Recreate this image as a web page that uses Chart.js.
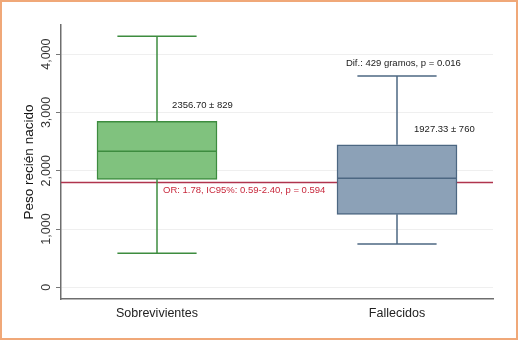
<!DOCTYPE html>
<html>
<head>
<meta charset="utf-8">
<script src="https://cdn.jsdelivr.net/npm/chart.js@4"></script>
<style>
  html, body { margin: 0; padding: 0; background: #fff; }
</style>
</head>
<body>
<canvas id="boxChart" width="518" height="340"></canvas>
<script>
// box plot summary per group
const groups = ['Sobrevivientes', 'Fallecidos'];
const whiskerLow = [583, 743];
const q1 = [1852, 1252];
const median = [2333, 1870];
const q3 = [2847, 2444];
const whiskerHigh = [4305, 3624];
const yTicks = [0, 1000, 2000, 3000, 4000];
const refLine = 1800;
const meanLabels = ['2356.70 ± 829', '1927.33 ± 760'];
const diffLabel = 'Dif.: 429 gramos, p = 0.016';
const orLabel = 'OR: 1.78, IC95%: 0.59-2.40, p = 0.594';

const fillColors = ['#80C27E', '#8CA1B7'];
const edgeColors = ['#3D8C3F', '#4C6782'];
const FONT = '"Liberation Sans", Arial, sans-serif';

const canvas = document.getElementById('boxChart');

// whiskers, medians, reference line and the text notes
const boxExtras = {
    id: 'boxExtras',
    beforeDatasetsDraw(chart) {
        const { ctx, chartArea, scales: { y } } = chart;
        const py = y.getPixelForValue(refLine);
        ctx.save();
        ctx.strokeStyle = '#B0344E';
        ctx.lineWidth = 1.5;
        ctx.beginPath();
        ctx.moveTo(chartArea.left, py);
        ctx.lineTo(chartArea.right, py);
        ctx.stroke();
        ctx.restore();
    },
    afterDatasetsDraw(chart) {
        const { ctx, scales: { x, y } } = chart;
        const line = (x1, y1, x2, y2) => {
            ctx.beginPath();
            ctx.moveTo(x1, y1);
            ctx.lineTo(x2, y2);
            ctx.stroke();
        };
        ctx.save();
        ctx.lineWidth = 1.5;
        groups.forEach((g, i) => {
            const cx = x.getPixelForValue(i);
            const capL = x.getPixelForValue(i - 0.165), capR = x.getPixelForValue(i + 0.165);
            const boxL = x.getPixelForValue(i - 0.25), boxR = x.getPixelForValue(i + 0.25);
            ctx.strokeStyle = edgeColors[i];
            line(cx, y.getPixelForValue(q3[i]), cx, y.getPixelForValue(whiskerHigh[i]));
            line(capL, y.getPixelForValue(whiskerHigh[i]), capR, y.getPixelForValue(whiskerHigh[i]));
            line(cx, y.getPixelForValue(q1[i]), cx, y.getPixelForValue(whiskerLow[i]));
            line(capL, y.getPixelForValue(whiskerLow[i]), capR, y.getPixelForValue(whiskerLow[i]));
            line(boxL, y.getPixelForValue(median[i]), boxR, y.getPixelForValue(median[i]));
        });

        ctx.font = '9.5px ' + FONT;
        ctx.textBaseline = 'middle';
        ctx.textAlign = 'left';
        ctx.fillStyle = '#1a1a1a';
        ctx.fillText(meanLabels[0], x.getPixelForValue(0.063), y.getPixelForValue(3120));
        ctx.fillText(meanLabels[1], x.getPixelForValue(1.071), y.getPixelForValue(2710));
        ctx.fillText(diffLabel, x.getPixelForValue(0.787), y.getPixelForValue(3845));
        ctx.fillStyle = '#C8283C';
        ctx.fillText(orLabel, x.getPixelForValue(0.025), y.getPixelForValue(1665));
        ctx.restore();
    },
    afterDraw(chart) {
        const { ctx } = chart;
        ctx.save();
        ctx.strokeStyle = '#F0A878';
        ctx.lineWidth = 2;
        ctx.strokeRect(1, 1, chart.width - 2, chart.height - 2);
        ctx.restore();
    }
};

const chartInstance = new Chart(canvas, {
    type: 'bar',
    data: {
        datasets: [{
            data: groups.map((g, i) => ({ x: i, y: [q1[i], q3[i]] })),
            backgroundColor: fillColors,
            borderColor: edgeColors,
            borderWidth: 1.5,
            borderSkipped: false,
            barThickness: 120
        }]
    },
    options: {
        responsive: false,
        animation: false,
        layout: { padding: { left: 0, right: 25, top: 25, bottom: 0 } },
        plugins: { legend: { display: false }, tooltip: { enabled: false } },
        scales: {
            x: {
                type: 'linear',
                min: -0.4,
                max: 1.4,
                offset: false,
                afterBuildTicks: s => { s.ticks = groups.map((g, i) => ({ value: i })); },
                afterFit: s => { s.height = 41; },
                ticks: {
                    callback: v => groups[v],
                    color: '#222',
                    padding: 7,
                    maxRotation: 0,
                    font: { family: FONT, size: 12.5 }
                },
                grid: { display: false, drawTicks: false, offset: false },
                border: { color: '#6e6e6e', width: 1.5 }
            },
            y: {
                min: -200,
                max: 4500,
                afterBuildTicks: s => { s.ticks = yTicks.map(v => ({ value: v })); },
                afterFit: s => { s.width = 61; },
                ticks: {
                    minRotation: 90,
                    maxRotation: 90,
                    crossAlign: 'center',
                    padding: -6,
                    color: '#333',
                    font: { family: FONT, size: 12.5 },
                    callback: v => v.toLocaleString('en-US')
                },
                grid: { color: '#EFEFEF', tickColor: '#777', tickLength: 5 },
                border: { color: '#6e6e6e', width: 1.5 },
                title: {
                    display: true,
                    text: 'Peso recién nacido',
                    color: '#111',
                    font: { family: FONT, size: 13.5 },
                    padding: { top: 21, bottom: 0 }
                }
            }
        }
    },
    plugins: [boxExtras]
});
</script>
</body>
</html>
